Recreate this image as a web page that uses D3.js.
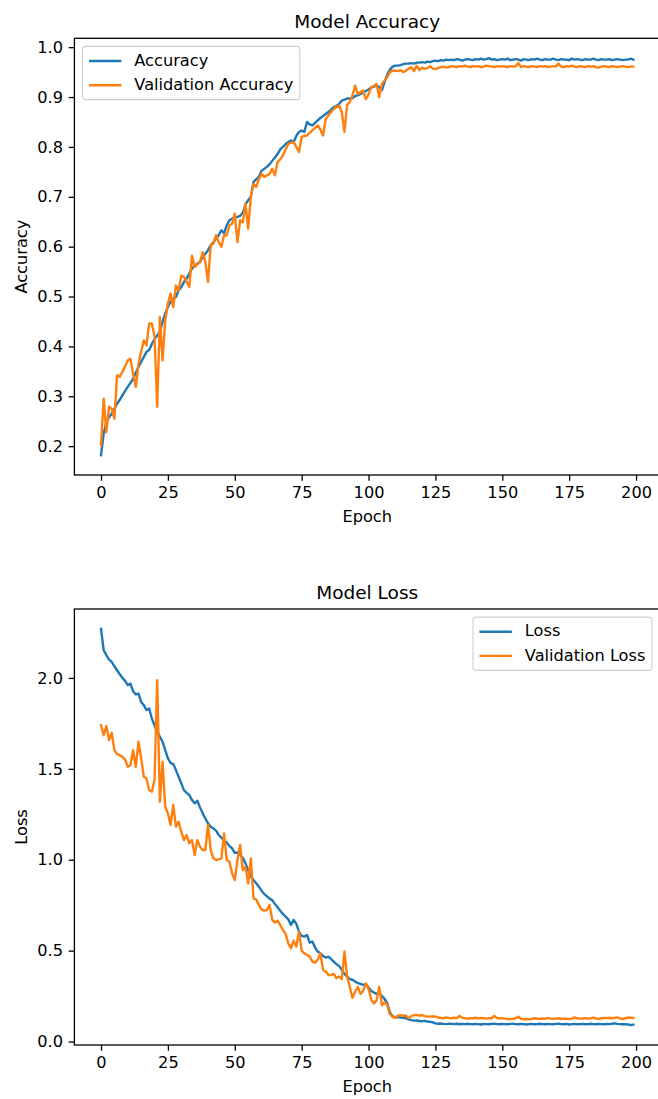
<!DOCTYPE html>
<html>
<head>
<meta charset="utf-8">
<script src="https://cdn.jsdelivr.net/npm/d3@7"></script>
<style>
  html, body { margin: 0; padding: 0; background: #ffffff; }
  svg { display: block; font-family: "DejaVu Sans", sans-serif; }
</style>
</head>
<body>
<svg id="chart" width="658" height="1099"></svg>
<script>
// ---------------- data ----------------
const epochs = d3.range(0, 200);

const accuracy = [
  0.182,0.225,0.248,0.258,0.265,0.275,0.285,0.293,0.302,0.311,
  0.319,0.327,0.335,0.347,0.359,0.369,0.379,0.389,0.393,0.405,
  0.415,0.422,0.429,0.449,0.466,0.479,0.489,0.496,0.499,0.512,
  0.519,0.529,0.536,0.546,0.556,0.562,0.566,0.569,0.579,0.586,
  0.593,0.603,0.609,0.616,0.623,0.633,0.627,0.643,0.653,0.656,
  0.658,0.660,0.662,0.668,0.685,0.693,0.700,0.730,0.735,0.740,
  0.752,0.756,0.760,0.765,0.772,0.779,0.786,0.795,0.800,0.806,
  0.810,0.813,0.810,0.822,0.830,0.833,0.830,0.850,0.845,0.843,
  0.848,0.853,0.858,0.862,0.866,0.870,0.875,0.880,0.882,0.886,
  0.893,0.895,0.897,0.897,0.898,0.902,0.904,0.906,0.909,0.912,
  0.915,0.919,0.921,0.923,0.920,0.914,0.930,0.945,0.955,0.961,
  0.963,0.963,0.964,0.966,0.967,0.967,0.968,0.967,0.969,0.969,
  0.970,0.969,0.971,0.970,0.972,0.973,0.972,0.974,0.973,0.975,
  0.974,0.975,0.974,0.976,0.975,0.973,0.975,0.976,0.975,0.974,
  0.976,0.975,0.977,0.975,0.976,0.978,0.975,0.976,0.974,0.975,
  0.976,0.975,0.977,0.974,0.975,0.976,0.975,0.973,0.976,0.975,
  0.974,0.976,0.975,0.977,0.975,0.974,0.976,0.975,0.975,0.977,
  0.975,0.974,0.976,0.975,0.975,0.974,0.977,0.975,0.976,0.975,
  0.974,0.976,0.975,0.975,0.977,0.975,0.974,0.976,0.975,0.975,
  0.976,0.974,0.975,0.976,0.975,0.974,0.975,0.975,0.977,0.975
];

const valAccuracy = [
  0.202,0.295,0.228,0.279,0.275,0.255,0.342,0.339,0.349,0.360,
  0.372,0.375,0.345,0.319,0.365,0.390,0.412,0.402,0.446,0.446,
  0.419,0.279,0.459,0.372,0.452,0.486,0.506,0.479,0.522,0.512,
  0.542,0.539,0.530,0.519,0.582,0.559,0.565,0.569,0.589,0.569,
  0.529,0.603,0.606,0.623,0.609,0.600,0.623,0.623,0.643,0.646,
  0.666,0.609,0.653,0.649,0.686,0.636,0.700,0.726,0.720,0.735,
  0.746,0.740,0.743,0.746,0.756,0.743,0.770,0.775,0.783,0.795,
  0.806,0.808,0.810,0.800,0.790,0.820,0.822,0.823,0.828,0.833,
  0.838,0.843,0.835,0.823,0.856,0.863,0.870,0.876,0.880,0.883,
  0.870,0.830,0.885,0.890,0.903,0.923,0.906,0.910,0.913,0.896,
  0.905,0.920,0.922,0.926,0.900,0.926,0.933,0.940,0.950,0.953,
  0.953,0.952,0.954,0.950,0.953,0.957,0.960,0.952,0.963,0.954,
  0.959,0.957,0.958,0.962,0.957,0.956,0.958,0.960,0.961,0.959,
  0.960,0.962,0.961,0.960,0.962,0.961,0.963,0.961,0.960,0.962,
  0.961,0.962,0.960,0.961,0.963,0.962,0.961,0.960,0.962,0.961,
  0.962,0.961,0.960,0.962,0.961,0.962,0.968,0.960,0.962,0.961,
  0.960,0.962,0.961,0.960,0.962,0.961,0.962,0.960,0.961,0.962,
  0.961,0.967,0.961,0.960,0.962,0.961,0.963,0.961,0.960,0.962,
  0.961,0.960,0.962,0.961,0.962,0.960,0.959,0.961,0.962,0.961,
  0.960,0.962,0.961,0.960,0.961,0.962,0.961,0.960,0.961,0.961
];

const loss = [
  2.270,2.152,2.125,2.101,2.088,2.064,2.042,2.020,2.000,1.984,
  1.960,1.969,1.927,1.909,1.914,1.868,1.850,1.823,1.832,1.777,
  1.740,1.704,1.676,1.649,1.603,1.557,1.533,1.526,1.493,1.456,
  1.420,1.383,1.368,1.356,1.328,1.310,1.324,1.288,1.255,1.227,
  1.200,1.182,1.172,1.160,1.136,1.121,1.108,1.094,1.075,1.063,
  1.038,1.040,1.026,1.011,0.980,0.943,0.907,0.888,0.870,0.852,
  0.830,0.811,0.800,0.786,0.778,0.756,0.738,0.720,0.702,0.687,
  0.672,0.641,0.669,0.647,0.604,0.581,0.577,0.586,0.544,0.550,
  0.518,0.495,0.485,0.471,0.462,0.467,0.453,0.440,0.425,0.416,
  0.394,0.372,0.357,0.343,0.340,0.330,0.321,0.317,0.312,0.315,
  0.297,0.278,0.270,0.262,0.266,0.250,0.235,0.210,0.160,0.138,
  0.135,0.134,0.132,0.130,0.128,0.122,0.118,0.115,0.116,0.113,
  0.112,0.114,0.110,0.108,0.106,0.100,0.098,0.099,0.097,0.096,
  0.098,0.097,0.096,0.098,0.095,0.097,0.096,0.098,0.096,0.095,
  0.097,0.096,0.094,0.097,0.096,0.095,0.097,0.098,0.096,0.095,
  0.097,0.096,0.095,0.097,0.098,0.096,0.095,0.097,0.096,0.094,
  0.096,0.097,0.095,0.096,0.098,0.096,0.095,0.097,0.096,0.095,
  0.097,0.098,0.096,0.095,0.097,0.094,0.096,0.097,0.095,0.096,
  0.097,0.095,0.096,0.098,0.096,0.095,0.097,0.096,0.095,0.097,
  0.096,0.098,0.100,0.097,0.096,0.095,0.096,0.094,0.090,0.093
];

const valLoss = [
  1.740,1.685,1.735,1.658,1.698,1.603,1.581,1.575,1.566,1.551,
  1.511,1.520,1.603,1.511,1.649,1.557,1.456,1.447,1.383,1.374,
  1.438,1.987,1.319,1.539,1.291,1.255,1.191,1.301,1.182,1.209,
  1.154,1.108,1.136,1.090,1.108,1.026,1.108,1.072,1.053,1.053,
  1.191,1.053,1.008,0.998,1.002,1.008,1.145,0.998,0.989,0.925,
  0.888,0.998,1.081,0.943,0.962,0.870,1.007,0.788,0.782,0.751,
  0.727,0.720,0.723,0.751,0.669,0.654,0.665,0.641,0.614,0.592,
  0.540,0.513,0.555,0.522,0.604,0.500,0.485,0.476,0.467,0.440,
  0.434,0.449,0.485,0.394,0.385,0.366,0.366,0.372,0.348,0.357,
  0.343,0.495,0.357,0.300,0.240,0.275,0.300,0.262,0.280,0.320,
  0.290,0.230,0.210,0.225,0.300,0.200,0.215,0.200,0.150,0.135,
  0.130,0.143,0.145,0.142,0.143,0.128,0.140,0.145,0.147,0.142,
  0.146,0.140,0.138,0.137,0.139,0.137,0.132,0.130,0.128,0.133,
  0.130,0.128,0.131,0.129,0.141,0.130,0.128,0.127,0.129,0.128,
  0.131,0.127,0.130,0.128,0.126,0.129,0.128,0.141,0.130,0.127,
  0.129,0.126,0.124,0.123,0.125,0.128,0.136,0.125,0.123,0.124,
  0.122,0.124,0.128,0.126,0.124,0.127,0.125,0.130,0.126,0.124,
  0.126,0.128,0.124,0.127,0.125,0.123,0.126,0.133,0.128,0.126,
  0.127,0.129,0.126,0.128,0.131,0.127,0.125,0.128,0.130,0.129,
  0.131,0.128,0.130,0.133,0.127,0.124,0.128,0.132,0.131,0.130
];

const xTicks = [0, 25, 50, 75, 100, 125, 150, 175, 200];
const accTicks = [0.2, 0.3, 0.4, 0.5, 0.6, 0.7, 0.8, 0.9, 1.0];
const lossTicks = [0.0, 0.5, 1.0, 1.5, 2.0];

const accNames = ["Accuracy", "Validation Accuracy"];
const lossNames = ["Loss", "Validation Loss"];
const colors = ["#1f77b4", "#ff7f0e"];

// ---------------- drawing ----------------
const svg = d3.select("#chart");
const FS = 16.2;          // tick / label / legend font size
const TITLE_FS = 18.5;
const TICK = 5.7;

function panel(opt) {
  const { left, right, top, bottom } = opt.box;
  const g = svg.append("g");

  const xMin = d3.min(epochs), xMax = d3.max(epochs);
  const xm = (xMax - xMin) * 0.05;
  const x = d3.scaleLinear().domain([xMin - xm, xMax + xm]).range([left, right]);

  const all = opt.series.flat();
  const yMin = d3.min(all), yMax = d3.max(all);
  const ym = (yMax - yMin) * 0.05;
  const y = d3.scaleLinear().domain([yMin - ym, yMax + ym]).range([bottom, top]);

  // lines
  const line = d3.line().x((d, i) => x(epochs[i])).y(d => y(d));
  opt.series.forEach((s, k) => {
    g.append("path")
      .datum(s)
      .attr("d", line)
      .attr("fill", "none")
      .attr("stroke", colors[k])
      .attr("stroke-width", 2.4)
      .attr("stroke-linejoin", "round")
      .attr("stroke-linecap", "square");
  });

  // axes
  const xAxis = d3.axisBottom(x).tickValues(xTicks).tickFormat(d3.format("d"))
    .tickSize(TICK).tickPadding(5.7);
  const yAxis = d3.axisLeft(y).tickValues(opt.yTicks).tickFormat(d3.format(".1f"))
    .tickSize(TICK).tickPadding(5.7);

  const gx = g.append("g").attr("transform", `translate(0,${bottom})`).call(xAxis);
  const gy = g.append("g").attr("transform", `translate(${left},0)`).call(yAxis);
  [gx, gy].forEach(a => {
    a.select(".domain").remove();
    a.selectAll("line").attr("stroke", "#000").attr("stroke-width", 1.3);
    a.selectAll("text").attr("fill", "#000")
      .style("font-family", "'DejaVu Sans', sans-serif")
      .style("font-size", FS + "px");
  });

  // spines
  g.append("rect")
    .attr("x", left).attr("y", top)
    .attr("width", right - left).attr("height", bottom - top)
    .attr("fill", "none").attr("stroke", "#000").attr("stroke-width", 1.3);

  // title
  g.append("text")
    .attr("x", (left + right) / 2).attr("y", top - 10.5)
    .attr("text-anchor", "middle")
    .style("font-size", TITLE_FS + "px")
    .attr("fill", "#000")
    .text(opt.title);

  // axis labels
  g.append("text")
    .attr("x", (left + right) / 2).attr("y", bottom + 46.8)
    .attr("text-anchor", "middle")
    .style("font-size", FS + "px")
    .attr("fill", "#000")
    .text("Epoch");
  g.append("text")
    .attr("transform", `translate(26.9,${(top + bottom) / 2}) rotate(-90)`)
    .attr("text-anchor", "middle")
    .style("font-size", FS + "px")
    .attr("fill", "#000")
    .text(opt.yLabel);

  // legend
  const pad = 0.4 * FS, axPad = 0.5 * FS, handle = 2.0 * FS, hpad = 0.8 * FS;
  const rowH = 24.2;
  const lg = g.append("g");
  const frame = lg.append("rect");
  const texts = opt.names.map((n, k) => lg.append("text")
    .style("font-size", FS + "px").attr("fill", "#000").text(n));
  const tw = d3.max(texts, t => t.node().getComputedTextLength());
  const boxW = pad * 2 + handle + hpad + tw;
  const boxH = pad * 2 + rowH * opt.names.length - (rowH - 16.1);
  const x0 = opt.legendRight ? right - axPad - boxW : left + axPad;
  const y0 = top + axPad;
  frame.attr("x", x0).attr("y", y0).attr("width", boxW).attr("height", boxH)
    .attr("rx", 3.2).attr("ry", 3.2)
    .attr("fill", "#fff").attr("fill-opacity", 0.8)
    .attr("stroke", "#d0d0d0").attr("stroke-width", 1.1);
  opt.names.forEach((n, k) => {
    const cy = y0 + pad + 8.1 + k * rowH;
    lg.append("line")
      .attr("x1", x0 + pad).attr("x2", x0 + pad + handle)
      .attr("y1", cy).attr("y2", cy)
      .attr("stroke", colors[k]).attr("stroke-width", 2.4);
    texts[k].attr("x", x0 + pad + handle + hpad).attr("y", cy + 4.8);
  });
}

panel({
  box: { left: 74.4, right: 660, top: 38.3, bottom: 475 },
  series: [accuracy, valAccuracy],
  names: accNames,
  title: "Model Accuracy",
  yLabel: "Accuracy",
  yTicks: accTicks,
  legendRight: false
});

panel({
  box: { left: 74.4, right: 660, top: 609, bottom: 1045 },
  series: [loss, valLoss],
  names: lossNames,
  title: "Model Loss",
  yLabel: "Loss",
  yTicks: lossTicks,
  legendRight: true
});
</script>
</body>
</html>
